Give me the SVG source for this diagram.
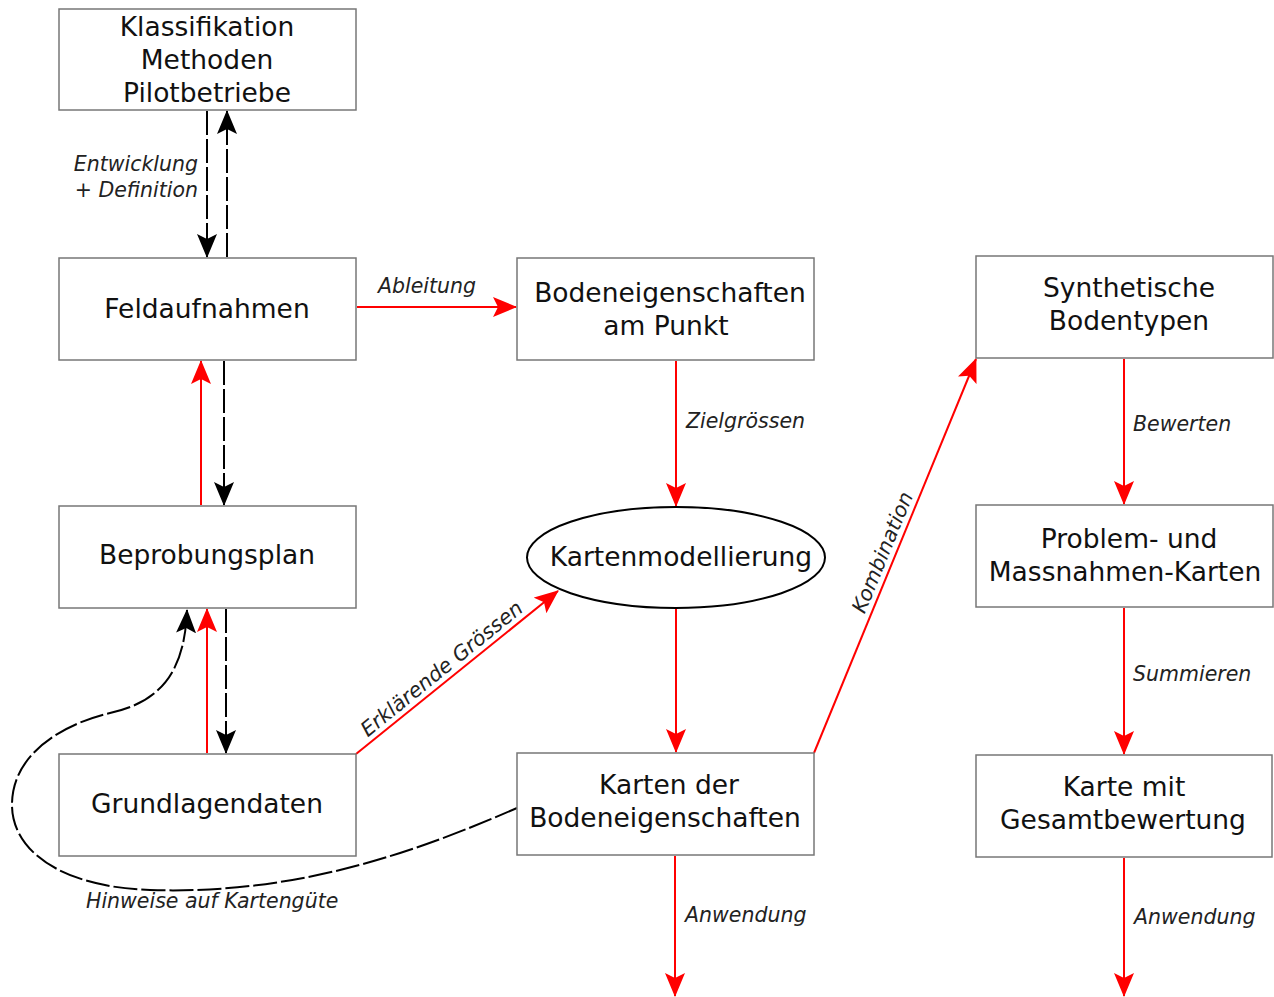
<svg xmlns="http://www.w3.org/2000/svg" width="1274" height="997" viewBox="0 0 1274 997">
<defs>
<style>
.box{fill:#fff;stroke:#777;stroke-width:1.5}
.t{font-family:"DejaVu Sans",Verdana,sans-serif;font-size:26.5px;fill:#111;text-anchor:middle}
.l{font-family:"DejaVu Sans",Verdana,sans-serif;font-size:20.5px;font-style:italic;fill:#222}
.red{stroke:#f00;stroke-width:2;fill:none;marker-end:url(#ar)}
.blk{stroke:#000;stroke-width:2;fill:none;stroke-dasharray:24 4;marker-end:url(#ab)}
</style>
<marker id="ar" markerUnits="userSpaceOnUse" markerWidth="24" markerHeight="20" refX="23" refY="10" orient="auto"><path d="M0,0 L24,10 L0,20 L5,10 z" fill="#f00"/></marker>
<marker id="ab" markerUnits="userSpaceOnUse" markerWidth="24" markerHeight="20" refX="23" refY="10" orient="auto"><path d="M0,0 L24,10 L0,20 L5,10 z" fill="#000"/></marker>
</defs>
<rect width="1274" height="997" fill="#fff"/>
<g id="connectors">
<line class="blk" x1="207" y1="111" x2="207" y2="257"/>
<line class="blk" x1="227" y1="257" x2="227" y2="111"/>
<line class="red" x1="357" y1="307" x2="516" y2="307"/>
<line class="blk" x1="224" y1="361" x2="224" y2="505"/>
<line class="red" x1="201" y1="505" x2="201" y2="361"/>
<line class="red" x1="207" y1="753" x2="207" y2="609"/>
<line class="blk" x1="226" y1="609" x2="226" y2="753"/>
<line class="red" x1="356" y1="754" x2="558" y2="591"/>
<line class="red" x1="676" y1="361" x2="676" y2="506"/>
<line class="red" x1="676" y1="609" x2="676" y2="752"/>
<line class="red" x1="814" y1="753" x2="976" y2="359"/>
<line class="red" x1="675" y1="856" x2="675" y2="996"/>
<line class="red" x1="1124" y1="359" x2="1124" y2="504"/>
<line class="red" x1="1124" y1="608" x2="1124" y2="754"/>
<line class="red" x1="1124" y1="858" x2="1124" y2="996"/>
<path class="blk" d="M517,808 C420,850 300,895 150,890 C60,887 12,850 12,805 C12,755 60,725 110,713 C170,700 185,660 187,610"/>
</g>
<g id="labels">
<text class="l" x="198" y="171" text-anchor="end">Entwicklung</text>
<text class="l" x="198" y="197" text-anchor="end">+ Definition</text>
<text class="l" x="427" y="293" text-anchor="middle">Ableitung</text>
<text class="l" x="686" y="428">Zielgrössen</text>
<text class="l" x="1133" y="431">Bewerten</text>
<text class="l" x="1133" y="681">Summieren</text>
<text class="l" x="685" y="922">Anwendung</text>
<text class="l" x="1134" y="924">Anwendung</text>
<text class="l" x="86" y="908">Hinweise auf Kartengüte</text>
<text class="l" text-anchor="middle" transform="translate(446,674) rotate(-39)">Erklärende Grössen</text>
<text class="l" text-anchor="middle" transform="translate(889,555) rotate(-67.7)">Kombination</text>
</g>
<g id="klassifikation"><rect class="box" x="59" y="9" width="297" height="101"/><text class="t" x="207" y="36">Klassifikation</text><text class="t" x="207" y="69">Methoden</text><text class="t" x="207" y="102">Pilotbetriebe</text></g>
<g id="feldaufnahmen"><rect class="box" x="59" y="258" width="297" height="102"/><text class="t" x="207" y="318">Feldaufnahmen</text></g>
<g id="beprobungsplan"><rect class="box" x="59" y="506" width="297" height="102"/><text class="t" x="207" y="564">Beprobungsplan</text></g>
<g id="grundlagendaten"><rect class="box" x="59" y="754" width="297" height="102"/><text class="t" x="207" y="813">Grundlagendaten</text></g>
<g id="bodeneigenschaften"><rect class="box" x="517" y="258" width="297" height="102"/><text class="t" x="670" y="302">Bodeneigenschaften</text><text class="t" x="666" y="335">am Punkt</text></g>
<g id="kartenmodellierung"><ellipse cx="676" cy="557.5" rx="149" ry="50.5" fill="#fff" stroke="#000" stroke-width="2"/><text class="t" x="681" y="566">Kartenmodellierung</text></g>
<g id="karten"><rect class="box" x="517" y="753" width="297" height="102"/><text class="t" x="669" y="794">Karten der</text><text class="t" x="665" y="827">Bodeneigenschaften</text></g>
<g id="synthetische"><rect class="box" x="976" y="256" width="297" height="102"/><text class="t" x="1129" y="297">Synthetische</text><text class="t" x="1129" y="330">Bodentypen</text></g>
<g id="problem"><rect class="box" x="976" y="505" width="297" height="102"/><text class="t" x="1129" y="548">Problem- und</text><text class="t" x="1125" y="581">Massnahmen-Karten</text></g>
<g id="gesamt"><rect class="box" x="976" y="755" width="296" height="102"/><text class="t" x="1124" y="796">Karte mit</text><text class="t" x="1123" y="829">Gesamtbewertung</text></g>
</svg>
